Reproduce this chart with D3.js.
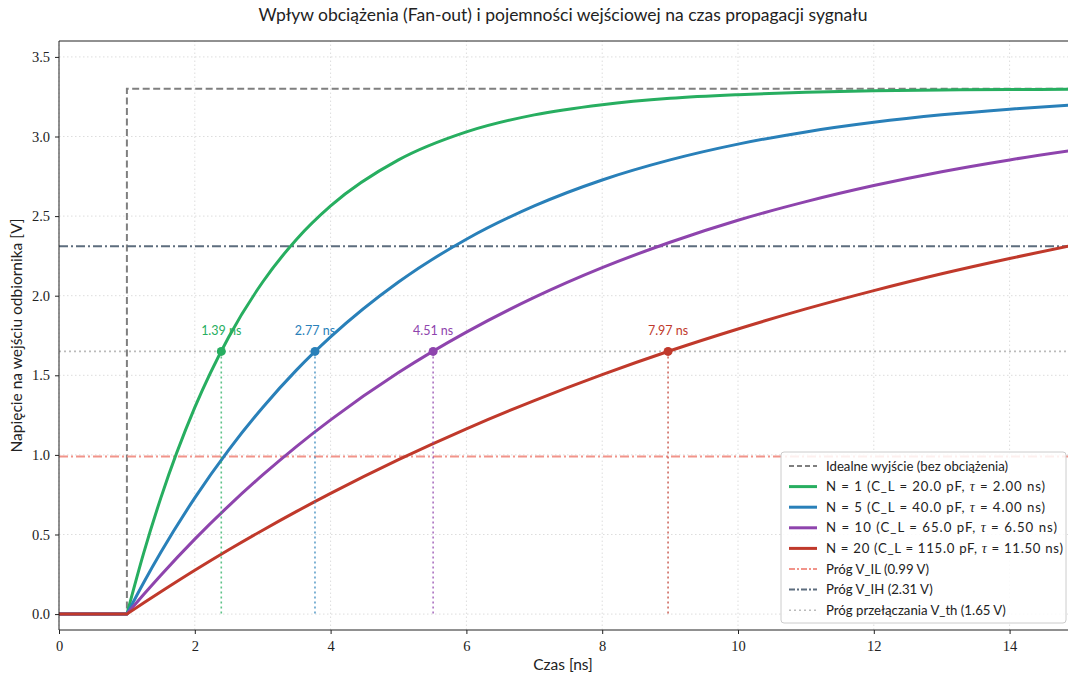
<!DOCTYPE html>
<html lang="pl">
<head>
<meta charset="UTF-8">
<title>Fan-out</title>
<script src="https://cdn.jsdelivr.net/npm/d3@7"></script>
<style>
  body{ margin:0; background:#fff; }
  svg{ display:block; }
</style>
</head>
<body>
<div id="chart"></div>
<script>
// czasy probek [ns] i odczytane napiecia [V] (od t = 1 ns)
const times = [1, 1.25, 1.5, 2, 2.5, 3, 3.5, 4, 5, 6, 7, 8, 9, 10, 11, 12, 13, 14, 15];
const vN1  = [0, 0.388, 0.730, 1.298, 1.741, 2.086, 2.355, 2.564, 2.853, 3.029, 3.136, 3.200, 3.240, 3.263, 3.278, 3.287, 3.292, 3.295, 3.297];
const vN5  = [0, 0.200, 0.388, 0.730, 1.032, 1.298, 1.534, 1.741, 2.086, 2.355, 2.564, 2.727, 2.853, 2.952, 3.029, 3.089, 3.136, 3.172, 3.200];
const vN10 = [0, 0.124, 0.244, 0.471, 0.680, 0.874, 1.054, 1.220, 1.517, 1.771, 1.989, 2.176, 2.336, 2.474, 2.591, 2.692, 2.779, 2.853, 2.917];
const vN20 = [0, 0.071, 0.140, 0.275, 0.404, 0.527, 0.645, 0.758, 0.970, 1.164, 1.341, 1.504, 1.654, 1.791, 1.917, 2.032, 2.138, 2.234, 2.323];
const seriesNames = ['N = 1', 'N = 5', 'N = 10', 'N = 20'];
const capacities = ['20.0', '40.0', '65.0', '115.0'];
const taus = ['2.00', '4.00', '6.50', '11.50'];
const colors = ['#27ae60', '#2980b9', '#8e44ad', '#c0392b'];
const crossTimes = [2.39, 3.77, 5.51, 8.97];   // chwila przekroczenia V_th
const delays = ['1.39 ns', '2.77 ns', '4.51 ns', '7.97 ns'];
const ideal = [[0, 0], [1, 0], [1, 3.3], [15, 3.3]];
const vIL = 0.99, vIH = 2.31, vTH = 1.65;
const xTicks = [0, 2, 4, 6, 8, 10, 12, 14];
const yTicks = [0, 0.5, 1.0, 1.5, 2.0, 2.5, 3.0, 3.5];

const W = 1068, H = 677;
const margin = {top: 41, left: 59, bottom: 47};
const plotRight = 59 + 15 * 67.9;
const svg = d3.select('#chart').append('svg').attr('width', W).attr('height', H);

const x = d3.scaleLinear().domain([0, 15]).range([margin.left, plotRight]);
const y = d3.scaleLinear().domain([-0.1, 3.6]).range([H - margin.bottom, margin.top]);

svg.append('defs').append('clipPath').attr('id', 'clip')
  .append('rect').attr('x', margin.left).attr('y', margin.top)
  .attr('width', plotRight - margin.left).attr('height', y(-0.1) - margin.top);

// siatka
const grid = svg.append('g');
grid.selectAll('.gx').data(xTicks).join('line')
  .attr('x1', d => x(d)).attr('x2', d => x(d)).attr('y1', y(-0.1)).attr('y2', y(3.6))
  .attr('stroke', '#ddd').attr('stroke-dasharray', '1.5,2.5').attr('stroke-width', 1);
grid.selectAll('.gy').data(yTicks).join('line')
  .attr('y1', d => y(d)).attr('y2', d => y(d)).attr('x1', x(0)).attr('x2', plotRight)
  .attr('stroke', '#ddd').attr('stroke-dasharray', '1.5,2.5').attr('stroke-width', 1);

const plot = svg.append('g').attr('clip-path', 'url(#clip)');
const lin = d3.line().x(d => x(d[0])).y(d => y(d[1]));
const mono = d3.line().x(d => x(d[0])).y(d => y(d[1])).curve(d3.curveMonotoneX);

// idealny skok
plot.append('path').attr('d', lin(ideal)).attr('fill', 'none')
  .attr('stroke', '#7f7f7f').attr('stroke-width', 2).attr('stroke-dasharray', '7,3.5');

// progi
const hline = (v, col, dash, w) => plot.append('line')
  .attr('x1', x(0)).attr('x2', plotRight).attr('y1', y(v)).attr('y2', y(v))
  .attr('stroke', col).attr('stroke-width', w).attr('stroke-dasharray', dash);
hline(vIL, '#f1948a', '9,3,2,3', 2);
hline(vIH, '#5d6d7e', '9,3,2,3', 2);
hline(vTH, '#bbb', '2,3', 1.6);

// krzywe
[vN1, vN5, vN10, vN20].forEach((vals, i) => {
  const pts = times.map((t, k) => [t, vals[k]]);
  const d = lin([[0, 0], [1, 0]]) + mono(pts).replace(/^M/, 'L');
  plot.append('path').attr('d', d).attr('fill', 'none')
    .attr('stroke', colors[i]).attr('stroke-width', 3).attr('stroke-linejoin', 'round');
});

// znaczniki opoznien
crossTimes.forEach((t, i) => {
  plot.append('line').attr('x1', x(t)).attr('x2', x(t)).attr('y1', y(vTH)).attr('y2', y(0))
    .attr('stroke', colors[i]).attr('stroke-width', 1.6).attr('stroke-dasharray', '2,3').attr('opacity', 0.75);
  plot.append('circle').attr('cx', x(t)).attr('cy', y(vTH)).attr('r', 4.5).attr('fill', colors[i]);
  plot.append('text').attr('x', x(t)).attr('y', y(vTH) - 16).attr('text-anchor', 'middle')
    .attr('font-family', 'Lato, sans-serif').attr('font-size', 12.5).attr('fill', colors[i])
    .text(delays[i]);
});

// osie
const xAxis = svg.append('g').attr('transform', `translate(0,${y(-0.1)})`)
  .call(d3.axisBottom(x).tickValues(xTicks).tickFormat(d3.format('d')).tickSize(4).tickPadding(7));
const yAxis = svg.append('g').attr('transform', `translate(${margin.left},0)`)
  .call(d3.axisLeft(y).tickValues(yTicks).tickFormat(d3.format('.1f')).tickSize(4).tickPadding(5));
[xAxis, yAxis].forEach(a => {
  a.attr('font-family', '"Liberation Serif", "DejaVu Serif", serif').attr('font-size', 14.5);
  a.select('.domain').remove();
  a.selectAll('.tick text').attr('fill', '#222');
  a.selectAll('.tick line').attr('stroke', '#222');
});
svg.append('line').attr('x1', margin.left).attr('x2', plotRight).attr('y1', y(-0.1)).attr('y2', y(-0.1)).attr('stroke', '#222');
svg.append('line').attr('x1', margin.left).attr('x2', plotRight).attr('y1', y(3.6)).attr('y2', y(3.6)).attr('stroke', '#222');
svg.append('line').attr('x1', margin.left).attr('x2', margin.left).attr('y1', y(-0.1)).attr('y2', y(3.6)).attr('stroke', '#222');

svg.append('text').attr('x', 563).attr('y', 21).attr('text-anchor', 'middle')
  .attr('font-family', 'Lato, sans-serif').attr('font-size', 17.5).attr('fill', '#222')
  .text('Wpływ obciążenia (Fan-out) i pojemności wejściowej na czas propagacji sygnału');
svg.append('text').attr('x', 563).attr('y', 670).attr('text-anchor', 'middle')
  .attr('font-family', 'Lato, sans-serif').attr('font-size', 15.5).attr('fill', '#222').text('Czas [ns]');
svg.append('text').attr('transform', `translate(22,${(y(-0.1) + y(3.6)) / 2}) rotate(-90)`)
  .attr('text-anchor', 'middle').attr('font-family', 'Lato, sans-serif').attr('font-size', 15.5)
  .attr('fill', '#222').text('Napięcie na wejściu odbiornika [V]');

// legenda
const leg = svg.append('g').attr('transform', 'translate(781,452)');
leg.append('rect').attr('width', 285).attr('height', 171).attr('rx', 3)
  .attr('fill', '#fff').attr('fill-opacity', 0.85).attr('stroke', '#ccc');
const rowWidths = [219, 219, 231, 237];
const legItems = [
  {label: 'Idealne wyjście (bez obciążenia)', col: '#7f7f7f', dash: '5,3', w: 2},
  ...seriesNames.map((n, i) => ({label: n, cl: capacities[i], tau: taus[i], col: colors[i], dash: null, w: 3, tw: rowWidths[i]})),
  {label: 'Próg V_IL (0.99 V)', col: '#f1948a', dash: '6,2,2,2', w: 2},
  {label: 'Próg V_IH (2.31 V)', col: '#5d6d7e', dash: '6,2,2,2', w: 2},
  {label: 'Próg przełączania V_th (1.65 V)', col: '#bbb', dash: '2,3', w: 1.6}
];
legItems.forEach((it, i) => {
  const gy = 14 + i * 20.6;
  leg.append('line').attr('x1', 8).attr('x2', 36).attr('y1', gy).attr('y2', gy)
    .attr('stroke', it.col).attr('stroke-width', it.w).attr('stroke-dasharray', it.dash);
  const t = leg.append('text').attr('x', 45).attr('y', gy + 4.5)
    .attr('font-family', 'Lato, sans-serif').attr('font-size', 13.2).attr('fill', '#222');
  if (it.tau) {
    t.attr('textLength', it.tw).attr('lengthAdjust', 'spacing');
    t.append('tspan').text(`${it.label} (C_L = ${it.cl} pF, `);
    t.append('tspan').attr('font-family', '"Liberation Serif", serif').attr('font-style', 'italic').attr('font-size', 14).text('τ');
    t.append('tspan').text(` = ${it.tau} ns)`);
  } else {
    t.text(it.label);
  }
});
</script>
</body>
</html>
